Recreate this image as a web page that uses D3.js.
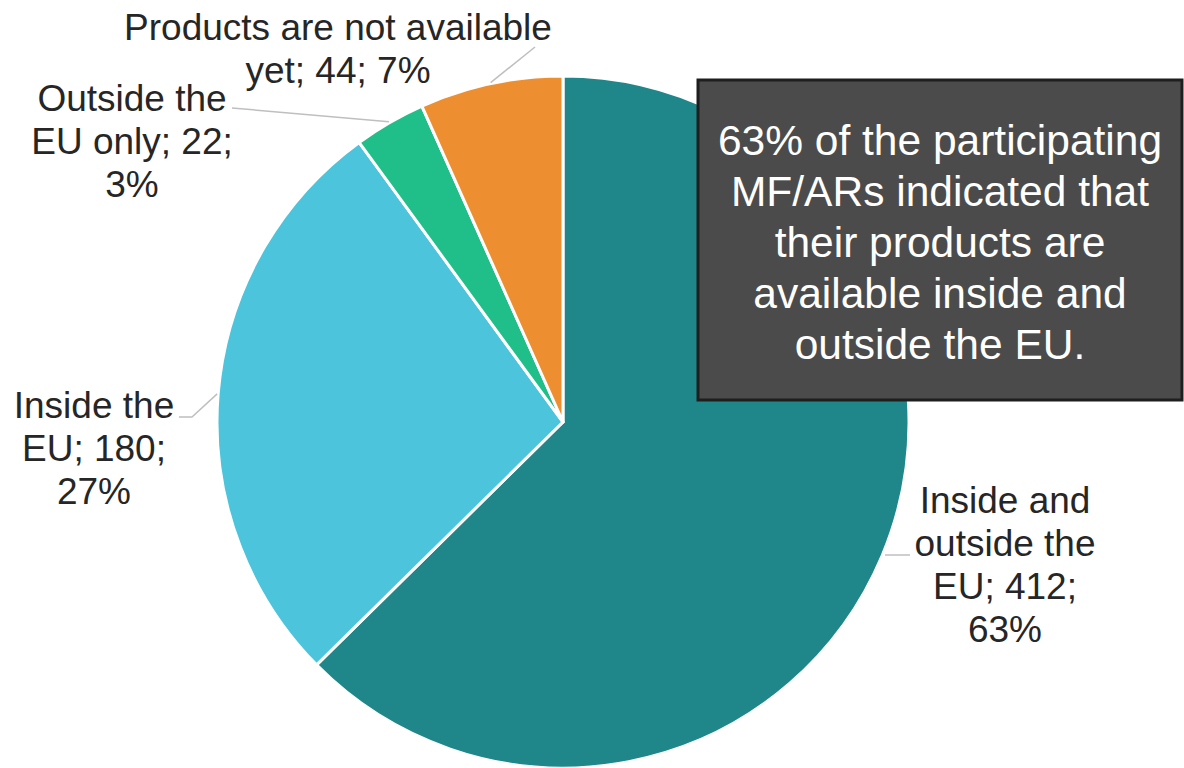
<!DOCTYPE html>
<html>
<head>
<meta charset="utf-8">
<script src="https://cdn.jsdelivr.net/npm/d3@7"></script>
<style>
  html, body { margin: 0; padding: 0; background: #ffffff; }
  svg { display: block; }
  text { font-family: "Liberation Sans", Arial, sans-serif; }
</style>
</head>
<body>
<script>
// Availability of products by market
const categories = [
  "Inside and outside the EU",
  "Inside the EU",
  "Outside the EU only",
  "Products are not available yet"
];
const counts = [412, 180, 22, 44];
const percentLabels = ["63%", "27%", "3%", "7%"];
// Label text broken into lines, as set in the chart
const labelLines = [
  ["Inside and", "outside the", "EU; 412;", "63%"],
  ["Inside the", "EU; 180;", "27%"],
  ["Outside the", "EU only; 22;", "3%"],
  ["Products are not available", "yet; 44; 7%"]
];
const colors = ["#1f868a", "#4bc4dc", "#20bf89", "#ed8f31"];
const calloutLines = [
  "63% of the participating",
  "MF/ARs indicated that",
  "their products are",
  "available inside and",
  "outside the EU."
];

// Layout
const W = 1184, H = 768;
const cx = 563, cy = 422, R = 346;
const labelFont = 37, labelLead = 43;
// label block centre x, first baseline y, and leader-line path (knee points after the slice edge)
const labelLayout = [
  { x: 1005, y: 513, leader: [[910, 555]], kneeFrom: [885, 555] },
  { x: 94,   y: 418, leader: [[192, 417], [179, 417]] },
  { x: 132,  y: 111, leader: [[232, 108]] },
  { x: 338,  y: 40,  leader: [[535, 47]] }
];

const svg = d3.select("body").append("svg")
  .attr("width", W).attr("height", H);

const data = categories.map((c, i) => ({ name: c, value: counts[i], i }));

const pie = d3.pie().value(d => d.value).sort(null);
const arcs = pie(data);
const arc = d3.arc().innerRadius(0).outerRadius(R);

const g = svg.append("g").attr("transform", `translate(${cx},${cy})`);

g.selectAll("path.slice")
  .data(arcs)
  .join("path")
  .attr("class", "slice")
  .attr("d", arc)
  .attr("fill", d => colors[d.data.i])
  .attr("stroke", "#ffffff")
  .attr("stroke-width", 3)
  .attr("stroke-linejoin", "round");

// Leader lines from slice edge midpoint to labels
const edgePoint = d => {
  const a = (d.startAngle + d.endAngle) / 2;
  return [cx + (R + 1) * Math.sin(a), cy - (R + 1) * Math.cos(a)];
};

arcs.forEach(d => {
  const lay = labelLayout[d.data.i];
  const start = lay.kneeFrom ? lay.kneeFrom : edgePoint(d);
  const pts = [start].concat(lay.leader);
  svg.append("path")
    .attr("d", d3.line()(pts))
    .attr("fill", "none")
    .attr("stroke", "#bfbfbf")
    .attr("stroke-width", 1.5);
});

// Data labels
arcs.forEach(d => {
  const lay = labelLayout[d.data.i];
  const t = svg.append("text")
    .attr("text-anchor", "middle")
    .attr("font-size", labelFont)
    .attr("fill", "#262626");
  labelLines[d.data.i].forEach((line, k) => {
    t.append("tspan")
      .attr("x", lay.x)
      .attr("y", lay.y + k * labelLead)
      .text(line);
  });
});

// Callout box
const box = { x: 698, y: 80, w: 484, h: 320 };
svg.append("rect")
  .attr("x", box.x).attr("y", box.y)
  .attr("width", box.w).attr("height", box.h)
  .attr("fill", "#4b4b4b")
  .attr("stroke", "#1e1e1e")
  .attr("stroke-width", 3);

const ct = svg.append("text")
  .attr("text-anchor", "middle")
  .attr("font-size", 42.5)
  .attr("fill", "#ffffff");
calloutLines.forEach((line, k) => {
  ct.append("tspan")
    .attr("x", box.x + box.w / 2)
    .attr("y", 155 + k * 51)
    .text(line);
});
</script>
</body>
</html>
